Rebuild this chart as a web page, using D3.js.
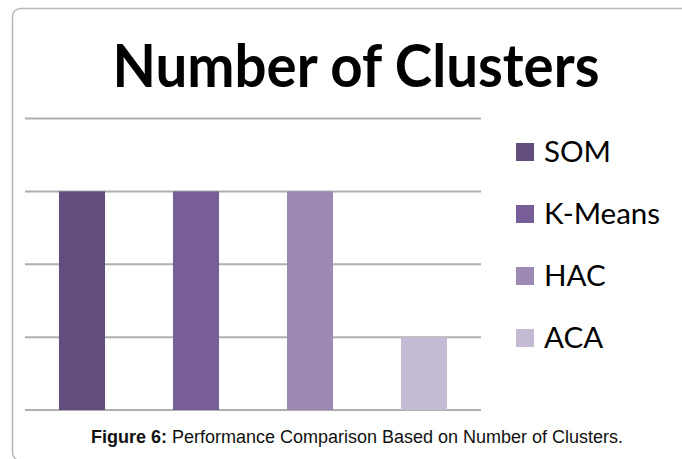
<!DOCTYPE html>
<html>
<head>
<meta charset="utf-8">
<script src="https://cdn.jsdelivr.net/npm/d3@7"></script>
<style>
  body { margin: 0; background: #fff; }
  svg { display: block; }
</style>
</head>
<body>
<svg id="chart"></svg>
<script>
// chart data
const methods = ["SOM", "K-Means", "HAC", "ACA"];
const clusters = [3, 3, 3, 1];
const colors = ["#634d7c", "#785e98", "#9c8ab5", "#c4bad4"];
const yTicks = [0, 1, 2, 3, 4];

const W = 682, H = 459;
const svg = d3.select("#chart").attr("width", W).attr("height", H);

// rounded frame, runs off the right and bottom edge
svg.append("rect")
    .attr("x", 12.5).attr("y", 8.5)
    .attr("width", 720).attr("height", 452)
    .attr("rx", 8)
    .attr("fill", "none")
    .attr("stroke", "#b8b8b8")
    .attr("stroke-width", 1.5);

// title
svg.append("text")
    .attr("x", 356).attr("y", 87)
    .attr("text-anchor", "middle")
    .attr("font-family", "Lato, 'Open Sans', sans-serif")
    .attr("font-weight", 700)
    .attr("font-size", 59)
    .attr("textLength", 487)
    .attr("lengthAdjust", "spacingAndGlyphs")
    .text("Number of Clusters");

// scales
const x = d3.scaleBand()
    .domain(methods)
    .range([25, 481])
    .paddingInner(0.596)
    .paddingOuter(0.298);

const y = d3.scaleLinear()
    .domain([0, 4])
    .range([410, 118.5]);

// gridlines
svg.append("g")
    .selectAll("line")
    .data(yTicks)
    .enter()
    .append("line")
    .attr("x1", 25).attr("x2", 481)
    .attr("y1", d => y(d)).attr("y2", d => y(d))
    .attr("stroke", "#b0b0b0")
    .attr("stroke-width", 2);

// bars
svg.append("g")
    .selectAll("rect")
    .data(methods)
    .enter()
    .append("rect")
    .attr("x", d => x(d))
    .attr("y", (d, i) => y(clusters[i]))
    .attr("width", x.bandwidth())
    .attr("height", (d, i) => y(0) - y(clusters[i]))
    .attr("fill", (d, i) => colors[i]);

// legend
const legend = svg.append("g")
    .selectAll("g")
    .data(methods)
    .enter()
    .append("g")
    .attr("transform", (d, i) => `translate(516, ${152 + i * 62})`);

legend.append("rect")
    .attr("x", 0).attr("y", -9)
    .attr("width", 18).attr("height", 18)
    .attr("fill", (d, i) => colors[i]);

legend.append("text")
    .attr("x", 28).attr("y", 10)
    .attr("font-family", "Lato, 'Open Sans', sans-serif")
    .attr("font-size", 29.5)
    .attr("fill", "#000")
    .text(d => d);

// caption
const cap = svg.append("text")
    .attr("x", 357).attr("y", 443)
    .attr("text-anchor", "middle")
    .attr("font-family", "'Liberation Sans', Arial, sans-serif")
    .attr("font-size", 18)
    .attr("fill", "#111");
cap.append("tspan").attr("font-weight", 700).text("Figure 6:");
cap.append("tspan").text(" Performance Comparison Based on Number of Clusters.");
</script>
</body>
</html>
